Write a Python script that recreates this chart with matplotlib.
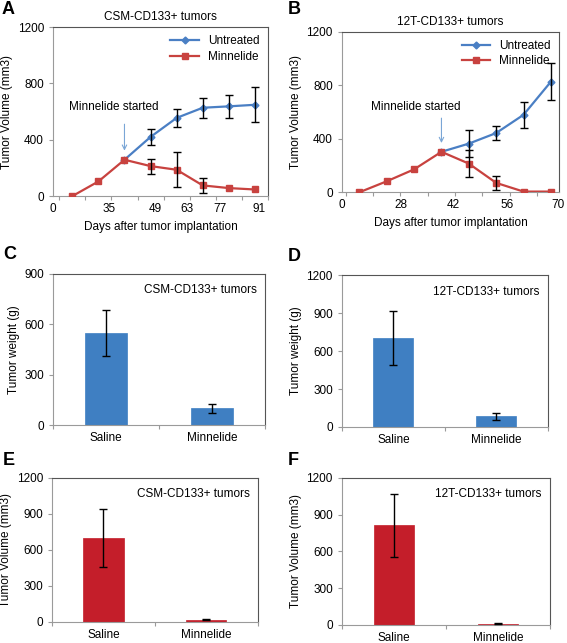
import numpy as np
import matplotlib.pyplot as plt

plt.rcParams['font.family'] = ['Liberation Sans', 'DejaVu Sans']
plt.rcParams['font.size'] = 8

## Line chart data (8 time points, category positions)
a_untreated = [np.nan, np.nan, 258, 420, 555, 627, 637, 648]
a_untreated_err = [0, 0, 0, 59, 65, 71, 83, 123]
a_minnelide = [0, 104, 258, 213, 187, 76, 57, 47]
a_minnelide_err = [0, 0, 0, 53, 123, 55, 0, 0]
a_xticklabels = ['0', '35', '49', '63', '77', '91']
a_xlabelpos = [-0.24, 1.9, 3.68, 4.89, 6.17, 7.66]

b_untreated = [np.nan, np.nan, np.nan, 302, 363, 442, 578, 825]
b_untreated_err = [0, 0, 0, 0, 100, 50, 95, 140]
b_minnelide = [0, 82, 171, 302, 214, 70, 5, 5]
b_minnelide_err = [0, 0, 0, 0, 98, 50, 0, 0]
b_xticklabels = ['0', '28', '42', '56', '70']
b_xlabelpos = [-0.14, 2.02, 3.93, 5.91, 7.77]

## Bar chart data
groups = ['Saline', 'Minnelide']
c_weight = [550, 99]
c_err = [138, 27]
d_weight = [704, 86]
d_err = [215, 28]
e_volume = [698, 20]
e_err = [240, 3]
f_volume = [813, 10]
f_err = [256, 5]

blue = '#4a7fc4'
red = '#c8423f'
bar_blue = '#3f7fc2'
bar_red = '#c41e2a'


def style_box(ax):
    ax.spines['left'].set_color('#9a9a9a')
    ax.spines['bottom'].set_color('#9a9a9a')
    ax.spines['top'].set_color('#555555')
    ax.spines['right'].set_color('#555555')
    for s in ax.spines.values():
        s.set_linewidth(0.8)
    ax.tick_params(axis='both', direction='out', length=3, color='#9a9a9a', labelsize=8.5)


def line_panel(ax, unt, unt_err, minn, minn_err, labels, labelpos, xmax, title,
               arrow_i, text_dx, text_dy):
    x = np.arange(len(minn)) + 0.5
    unt = np.array(unt, dtype=float)
    mask = ~np.isnan(unt)
    ue = np.array(unt_err, dtype=float)[mask]
    me = np.array(minn_err, dtype=float)
    ax.plot(x[mask], unt[mask], color=blue, marker='D', markersize=3.5, lw=1.6, label='Untreated', zorder=3)
    ax.plot(x, minn, color=red, marker='s', markersize=5, lw=1.6, label='Minnelide', zorder=3)
    ax.errorbar(x[mask], unt[mask], yerr=np.where(ue > 0, ue, np.nan), fmt='none',
                ecolor='black', elinewidth=1, capsize=3, zorder=4)
    ax.errorbar(x, minn, yerr=np.where(me > 0, me, np.nan), fmt='none',
                ecolor='black', elinewidth=1, capsize=3, zorder=4)
    ax.set_xlim(0, xmax)
    ax.set_ylim(0, 1200)
    ax.set_yticks([0, 400, 800, 1200])
    ax.set_xticks(np.arange(0, int(xmax) + 1))
    ax.set_xticklabels([])
    ax.set_xticks(labelpos, minor=True)
    ax.set_xticklabels(labels, minor=True)
    ax.tick_params(axis='x', which='minor', length=0, pad=5, labelsize=8.5)
    style_box(ax)
    ax.set_ylabel('Tumor Volume (mm3)', fontsize=8.5, labelpad=3)
    ax.set_xlabel('Days after tumor implantation', fontsize=8.5, labelpad=4)
    ax.set_title(title, fontsize=8.5, pad=5)
    ax.legend(loc='upper right', frameon=False, fontsize=8.5, handlelength=2.4,
              borderaxespad=0.3, labelspacing=0.3)
    ax.annotate('', xy=(x[arrow_i], minn[arrow_i] + 45), xytext=(x[arrow_i], minn[arrow_i] + 272),
                arrowprops=dict(arrowstyle='->', color='#7aa6d6', lw=0.8))
    ax.text(x[arrow_i] + text_dx, minn[arrow_i] + text_dy, 'Minnelide started',
            ha='center', va='bottom', fontsize=8.5)


def bar_panel(ax, vals, errs, color, ymax, yticks, ylabel, label):
    x = np.arange(len(groups)) + 0.5
    ax.bar(x, vals, width=0.39, color=color, edgecolor=color, linewidth=0.5, zorder=2)
    ax.errorbar(x, vals, yerr=errs, fmt='none', ecolor='black', elinewidth=1, capsize=3, zorder=3)
    ax.set_xlim(0, 2)
    ax.set_ylim(0, ymax)
    ax.set_yticks(yticks)
    ax.set_xticks([0, 1, 2])
    ax.set_xticklabels([])
    ax.set_xticks(x, minor=True)
    ax.set_xticklabels(groups, minor=True)
    ax.tick_params(axis='x', which='minor', length=0, pad=5, labelsize=8.5)
    style_box(ax)
    ax.set_ylabel(ylabel, fontsize=8.5, labelpad=3)
    ax.text(0.96, 0.93, label, transform=ax.transAxes, ha='right', va='top', fontsize=8.5)


fig = plt.figure(figsize=(5.67, 6.43), dpi=100)

ax_a = fig.add_axes([0.0935, 0.695, 0.379, 0.263])
line_panel(ax_a, a_untreated, a_untreated_err, a_minnelide, a_minnelide_err,
           a_xticklabels, a_xlabelpos, 8, 'CSM-CD133+ tumors', 2, -0.4, 330)

ax_b = fig.add_axes([0.603, 0.701, 0.383, 0.250])
line_panel(ax_b, b_untreated, b_untreated_err, b_minnelide, b_minnelide_err,
           b_xticklabels, b_xlabelpos, 7.8, '12T-CD133+ tumors', 3, -0.95, 290)

ax_c = fig.add_axes([0.0935, 0.339, 0.374, 0.235])
bar_panel(ax_c, c_weight, c_err, bar_blue, 900, [0, 300, 600, 900], 'Tumor weight (g)', 'CSM-CD133+ tumors')

ax_d = fig.add_axes([0.603, 0.336, 0.363, 0.236])
bar_panel(ax_d, d_weight, d_err, bar_blue, 1200, [0, 300, 600, 900, 1200], 'Tumor weight (g)', '12T-CD133+ tumors')

ax_e = fig.add_axes([0.0917, 0.0327, 0.363, 0.224])
bar_panel(ax_e, e_volume, e_err, bar_red, 1200, [0, 300, 600, 900, 1200], 'Tumor Volume (mm3)', 'CSM-CD133+ tumors')

ax_f = fig.add_axes([0.603, 0.028, 0.367, 0.229])
bar_panel(ax_f, f_volume, f_err, bar_red, 1200, [0, 300, 600, 900, 1200], 'Tumor Volume (mm3)', '12T-CD133+ tumors')

# panel letters
for letter, lx, ly in [('A', 2, 1), ('B', 288, 1), ('C', 3, 246), ('D', 288, 248), ('E', 3, 452), ('F', 288, 452)]:
    fig.text(lx / 567, 1 - ly / 643, letter, fontsize=13, fontweight='bold', ha='left', va='top')

fig.savefig('out.png', dpi=100)
plt.close()
